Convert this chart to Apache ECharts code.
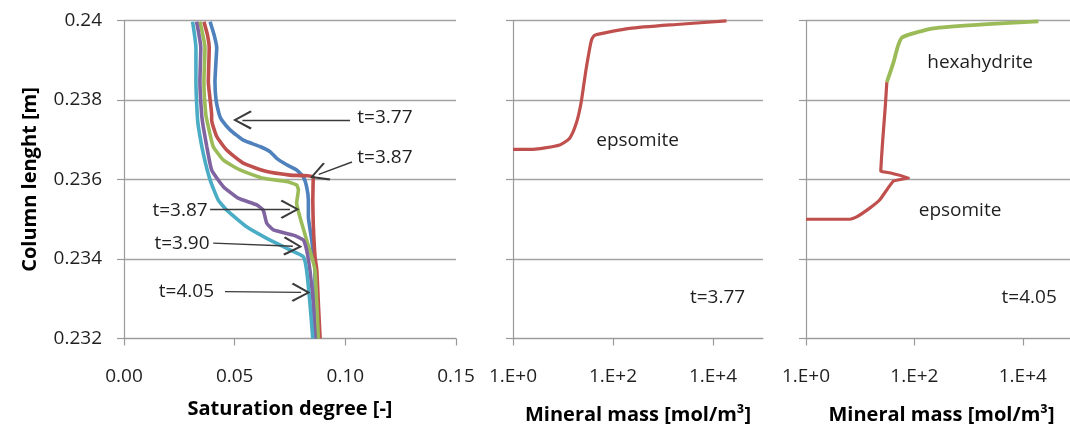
<!DOCTYPE html>
<html>
<head>
<meta charset="utf-8">
<script src="https://cdn.jsdelivr.net/npm/echarts@6/dist/echarts.min.js"></script>
<style>
  html, body { margin: 0; padding: 0; background: #fff; }
  #chart { width: 1070px; height: 431px; }
</style>
</head>
<body>
<div id="chart"></div>
<script>
// Saturation degree profiles along the column: [saturation, height in m]
const satT377 = [
  [0.0389, 0.23997], [0.0407, 0.23964], [0.0419, 0.23931], [0.0416, 0.23901], [0.0411, 0.23846],
  [0.0416, 0.23800], [0.0431, 0.23762], [0.0441, 0.23750], [0.0479, 0.23725], [0.0539, 0.23699],
  [0.0614, 0.23683], [0.0660, 0.23670], [0.0690, 0.23653], [0.0735, 0.23637], [0.0780, 0.23624],
  [0.0810, 0.23607], [0.0825, 0.23582], [0.0833, 0.23548], [0.0833, 0.23506], [0.0848, 0.23448],
  [0.0863, 0.23372], [0.0863, 0.23289], [0.0871, 0.23200]
];
const satT387a = [
  [0.0361, 0.23997], [0.0377, 0.23964], [0.0385, 0.23931], [0.0381, 0.23846], [0.0396, 0.23762],
  [0.0396, 0.23750], [0.0419, 0.23708], [0.0464, 0.23674], [0.0539, 0.23641], [0.0645, 0.23620],
  [0.0750, 0.23611], [0.0855, 0.23606], [0.0853, 0.23548], [0.0855, 0.23490], [0.0863, 0.23406],
  [0.0871, 0.23372], [0.0878, 0.23289], [0.0886, 0.23200]
];
const satT387b = [
  [0.0343, 0.23997], [0.0366, 0.23931], [0.0361, 0.23846], [0.0370, 0.23762], [0.0381, 0.23733],
  [0.0403, 0.23683], [0.0449, 0.23649], [0.0524, 0.23624], [0.0629, 0.23603], [0.0735, 0.23595],
  [0.0780, 0.23586], [0.0788, 0.23574], [0.0780, 0.23540], [0.0803, 0.23490], [0.0825, 0.23448],
  [0.0848, 0.23406], [0.0863, 0.23372], [0.0871, 0.23289], [0.0878, 0.23200]
];
const satT390 = [
  [0.0328, 0.23997], [0.0347, 0.23931], [0.0343, 0.23846], [0.0351, 0.23762], [0.0358, 0.23733],
  [0.0374, 0.23683], [0.0396, 0.23624], [0.0449, 0.23582], [0.0516, 0.23553], [0.0600, 0.23536],
  [0.0629, 0.23523], [0.0645, 0.23490], [0.0675, 0.23473], [0.0765, 0.23460], [0.0810, 0.23448],
  [0.0825, 0.23423], [0.0840, 0.23372], [0.0855, 0.23289], [0.0863, 0.23200]
];
const satT405 = [
  [0.0310, 0.23997], [0.0325, 0.23931], [0.0325, 0.23846], [0.0331, 0.23762], [0.0336, 0.23733],
  [0.0358, 0.23666], [0.0389, 0.23599], [0.0426, 0.23548], [0.0464, 0.23523], [0.0554, 0.23481],
  [0.0645, 0.23452], [0.0750, 0.23423], [0.0810, 0.23406], [0.0825, 0.23372], [0.0840, 0.23289],
  [0.0853, 0.23200]
];

// Mineral mass profiles: [mass in mol/m3, height in m]
const epsomiteT377 = [
  [1, 0.23676], [2.5, 0.23676], [8.6, 0.23687], [13.6, 0.23704], [18.5, 0.23742], [23, 0.23793],
  [29, 0.23878], [37, 0.23950], [43, 0.23963], [215, 0.23980], [1860, 0.23990], [18600, 0.23999]
];
const epsomiteT405 = [
  [1, 0.23500], [6.5, 0.23500], [8.6, 0.23506], [15, 0.23528], [23, 0.23549], [41, 0.23596],
  [78, 0.23604], [35, 0.23617], [24, 0.23621], [26, 0.23698], [29, 0.23783], [31, 0.23845]
];
const hexahydriteT405 = [
  [31, 0.23845], [41, 0.23894], [50, 0.23937], [60, 0.23958], [224, 0.23980], [1870, 0.23990],
  [19400, 0.23998]
];

// Axis ranges and tick values
const heightRange = [0.232, 0.240];
const heightStep = 0.002;
const satRange = [0, 0.15];
const satStep = 0.05;
const massRange = [1, 100000];
const massTickValues = [1, 100, 10000];

// Profile annotations: label text and position, arrow from -> to
const profileNotes = [
  { text: 't=3.77', at: [0.1179, 0.23755], from: [0.1021, 0.23750], to: [0.0535, 0.23750] },
  { text: 't=3.87', at: [0.1179, 0.23655], from: [0.1030, 0.23644], to: [0.0880, 0.23613] },
  { text: 't=3.87', at: [0.0253, 0.23523], from: [0.0389, 0.23525], to: [0.0750, 0.23525] },
  { text: 't=3.90', at: [0.0262, 0.23440], from: [0.0403, 0.23440], to: [0.0763, 0.23432] },
  { text: 't=4.05', at: [0.0282, 0.23318], from: [0.0456, 0.23318], to: [0.0800, 0.23316] }
];
const massNotesT377 = [
  { text: 'epsomite', at: [310, 0.23699] },
  { text: 't=3.77', at: [12300, 0.23304] }
];
const massNotesT405 = [
  { text: 'hexahydrite', at: [1630, 0.23893] },
  { text: 'epsomite', at: [695, 0.23523] },
  { text: 't=4.05', at: [13100, 0.23304] }
];

const COLORS = ['#4F81BD', '#C0504D', '#9BBB59', '#8064A2', '#4BACC6'];
const FONT = 'Open Sans';
const TEXT = '#1f1f1f';
const GRIDLINE = '#a3a3a3';
const AXISLINE = '#9a9a9a';
// open chevron arrow head, tip pointing up
const ARROW_HEAD = 'path://M0,0 L10,13 L8.4,14.2 L0,3 L-8.4,14.2 L-10,13 Z';

const chart = echarts.init(document.getElementById('chart'), null, { renderer: 'canvas' });

const gridBase = { top: 20.5, height: 318, containLabel: false, outerBoundsMode: 'none' };
const titleStyle = { fontFamily: FONT, fontWeight: 'bold', fontSize: 20, color: '#000' };

function heightAxis(gridIndex, withLabels) {
  return {
    type: 'value', gridIndex: gridIndex,
    min: heightRange[0], max: heightRange[1], interval: heightStep,
    axisLine: { show: true, lineStyle: { color: AXISLINE, width: 1.2 } },
    axisTick: { show: true, length: 7, lineStyle: { color: AXISLINE, width: 1.2 } },
    splitLine: { show: true, lineStyle: { color: GRIDLINE, width: 1.3 } },
    axisLabel: {
      show: withLabels, margin: 22, color: TEXT, fontFamily: FONT, fontSize: 19,
      formatter: v => String(parseFloat(v.toFixed(3)))
    },
    name: withLabels ? 'Column lenght [m]' : '',
    nameLocation: 'middle', nameRotate: 90, nameGap: 84,
    nameTextStyle: titleStyle
  };
}

function massAxis(gridIndex) {
  return {
    type: 'log', logBase: 10, gridIndex: gridIndex,
    min: massRange[0], max: massRange[1],
    axisLine: { show: true, lineStyle: { color: AXISLINE, width: 1.2 } },
    axisTick: { show: true, length: 7, customValues: massTickValues, lineStyle: { color: AXISLINE, width: 1.2 } },
    minorTick: { show: false },
    splitLine: { show: false },
    axisLabel: {
      margin: 29, color: TEXT, fontFamily: FONT, fontSize: 19,
      customValues: massTickValues,
      formatter: v => '1.E+' + Math.round(Math.log10(v))
    },
    name: 'Mineral mass [mol/m³]', nameLocation: 'middle', nameGap: 67,
    nameTextStyle: titleStyle
  };
}

function textPoints(notes) {
  return {
    silent: true, animation: false,
    symbol: 'circle', symbolSize: 1,
    itemStyle: { color: 'rgba(0,0,0,0)' },
    label: {
      show: true, position: 'inside', formatter: '{b}',
      color: TEXT, fontFamily: FONT, fontSize: 19
    },
    data: notes.map(n => ({ name: n.text, coord: n.at }))
  };
}

function profileSeries(name, data, color, extra) {
  return Object.assign({
    type: 'line', name: name, xAxisIndex: 0, yAxisIndex: 0,
    data: data, showSymbol: false, smooth: 0.15, animation: false,
    lineStyle: { color: color, width: 3.6 }, itemStyle: { color: color }
  }, extra || {});
}

chart.setOption({
  backgroundColor: '#fff',
  animation: false,
  grid: [
    Object.assign({ left: 124, width: 332 }, gridBase),
    Object.assign({ left: 513, width: 250 }, gridBase),
    Object.assign({ left: 806, width: 271 }, gridBase)
  ],
  xAxis: [
    {
      type: 'value', gridIndex: 0,
      min: satRange[0], max: satRange[1], interval: satStep,
      axisLine: { show: true, lineStyle: { color: AXISLINE, width: 1.2 } },
      axisTick: { show: true, length: 7, lineStyle: { color: AXISLINE, width: 1.2 } },
      splitLine: { show: false },
      axisLabel: { margin: 29, color: TEXT, fontFamily: FONT, fontSize: 19, formatter: v => v.toFixed(2) },
      name: 'Saturation degree [-]', nameLocation: 'middle', nameGap: 61,
      nameTextStyle: titleStyle
    },
    massAxis(1),
    massAxis(2)
  ],
  yAxis: [heightAxis(0, true), heightAxis(1, false), heightAxis(2, false)],
  series: [
    profileSeries('t=3.77', satT377, COLORS[0], {
      markLine: {
        silent: true, animation: false,
        symbol: ['none', ARROW_HEAD], symbolSize: 19,
        label: { show: false },
        lineStyle: { color: '#3a3a3a', width: 1.4, type: 'solid' },
        data: profileNotes.map(n => [{ coord: n.from }, { coord: n.to }])
      },
      markPoint: textPoints(profileNotes)
    }),
    profileSeries('t=3.87', satT387a, COLORS[1]),
    profileSeries('t=3.87', satT387b, COLORS[2]),
    profileSeries('t=3.90', satT390, COLORS[3]),
    profileSeries('t=4.05', satT405, COLORS[4]),
    {
      type: 'line', name: 'epsomite', xAxisIndex: 1, yAxisIndex: 1,
      data: epsomiteT377, showSymbol: false, smooth: 0.2, animation: false,
      lineStyle: { color: COLORS[1], width: 3.2 },
      markPoint: textPoints(massNotesT377)
    },
    {
      type: 'line', name: 'epsomite', xAxisIndex: 2, yAxisIndex: 2,
      data: epsomiteT405, showSymbol: false, smooth: 0.1, animation: false,
      lineStyle: { color: COLORS[1], width: 3.2 },
      markPoint: textPoints(massNotesT405)
    },
    {
      type: 'line', name: 'hexahydrite', xAxisIndex: 2, yAxisIndex: 2,
      data: hexahydriteT405, showSymbol: false, smooth: 0.2, animation: false,
      lineStyle: { color: COLORS[2], width: 3.8 }
    }
  ]
});
</script>
</body>
</html>
